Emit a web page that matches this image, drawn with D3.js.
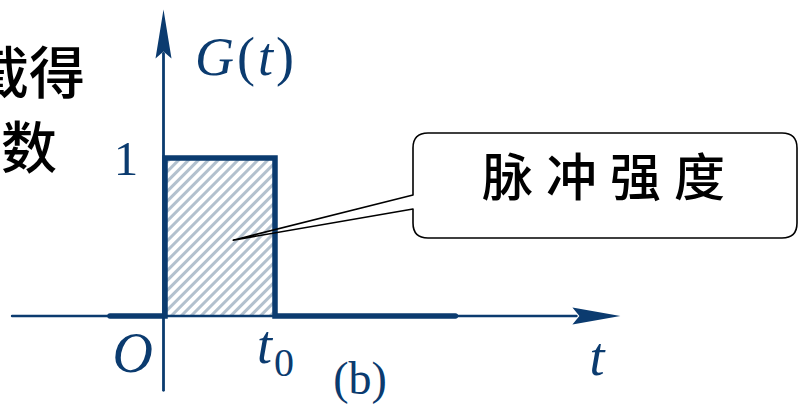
<!DOCTYPE html>
<html>
<head>
<meta charset="utf-8">
<script src="https://cdn.jsdelivr.net/npm/d3@7"></script>
<style>
  html, body { margin: 0; padding: 0; background: #fff; }
  svg { display: block; }
</style>
</head>
<body>
<svg id="chart" width="798" height="411"></svg>
<script>
// Rectangular pulse G(t): 1 on [0, t0], 0 elsewhere (t0 = 1 unit)
const pulseStart = [0];
const pulseEnd = [1];
const pulseHeight = [1];
// Segments of the thick function trace (t, G) drawn along the t axis
const traceT = [-0.5, 0, 0, 1, 1, 2.64];
const traceG = [0, 0, 1, 1, 0, 0];
// Axis extents in data units
const tAxisRange = [-1.39, 4.14];
const gAxisRange = [-0.47, 1.94];
// Tick labels
const yTickValues = [1];
const yTickLabels = ["1"];
const xTickValues = [1];
const xTickLabels = ["t"];
// Annotation
const calloutText = ["脉冲强度"];
const calloutTarget = [0.62, 0.48];
const sideText = ["截得", "数"];
const panelLabel = ["(b)"];

const navy = "#0b3b6f";
const hatch = "#b3c1ce";

const svg = d3.select("#chart");
const x = d3.scaleLinear().domain([0, 1]).range([165, 275]);
const y = d3.scaleLinear().domain([0, 1]).range([316, 158]);

const defs = svg.append("defs");
const pat = defs.append("pattern")
  .attr("id", "hatch")
  .attr("patternUnits", "userSpaceOnUse")
  .attr("width", 7).attr("height", 7)
  .attr("patternTransform", "rotate(45)");
pat.append("rect").attr("width", 7).attr("height", 7).attr("fill", "#fff");
pat.append("line")
  .attr("x1", 1.5).attr("y1", 0).attr("x2", 1.5).attr("y2", 7)
  .attr("stroke", hatch).attr("stroke-width", 3);

// Hatched pulse area
svg.append("rect")
  .attr("x", x(pulseStart[0]))
  .attr("y", y(pulseHeight[0]))
  .attr("width", x(pulseEnd[0]) - x(pulseStart[0]))
  .attr("height", y(0) - y(pulseHeight[0]))
  .attr("fill", "url(#hatch)");

// Horizontal axis (thin) with arrow
const axY = y(0);
const tx0 = x(tAxisRange[0]), tx1 = x(tAxisRange[1]);
svg.append("line")
  .attr("x1", tx0).attr("y1", axY).attr("x2", tx1 - 44).attr("y2", axY)
  .attr("stroke", navy).attr("stroke-width", 2.6).attr("stroke-linecap", "round");
svg.append("path")
  .attr("d", `M${tx1},${axY} L${tx1 - 48},${axY - 8.5} L${tx1 - 41},${axY} L${tx1 - 48},${axY + 8.5} Z`)
  .attr("fill", navy);

// Vertical axis with arrow
const axX = x(0) - 1.5;
const gy0 = y(gAxisRange[0]), gy1 = y(gAxisRange[1]);
svg.append("line")
  .attr("x1", axX).attr("y1", gy0).attr("x2", axX).attr("y2", gy1 + 44)
  .attr("stroke", navy).attr("stroke-width", 2.8).attr("stroke-linecap", "round");
svg.append("path")
  .attr("d", `M${axX},${gy1} L${axX - 8},${gy1 + 49} L${axX},${gy1 + 42} L${axX + 8},${gy1 + 49} Z`)
  .attr("fill", navy);

// Thick function trace
const trace = traceT.map((t, i) => [x(t), y(traceG[i])]);
svg.append("path")
  .attr("d", d3.line()(trace))
  .attr("fill", "none")
  .attr("stroke", navy)
  .attr("stroke-width", 5.5)
  .attr("stroke-linejoin", "miter")
  .attr("stroke-linecap", "round");

// Math labels
const serif = "'Liberation Serif', 'Times New Roman', serif";
const gl = svg.append("text")
  .attr("x", 195).attr("y", y(0) - 241)
  .attr("font-family", serif).attr("font-size", 54)
  .attr("letter-spacing", 3).attr("fill", navy);
gl.append("tspan").attr("font-style", "italic").text("G");
gl.append("tspan").text("(");
gl.append("tspan").attr("font-style", "italic").text("t");
gl.append("tspan").text(")");

svg.selectAll("text.ytick").data(yTickValues).enter().append("text")
  .attr("class", "ytick")
  .attr("x", x(0) - 39).attr("y", d => y(d) + 17)
  .attr("text-anchor", "middle")
  .attr("font-family", serif).attr("font-size", 49).attr("fill", navy)
  .text((d, i) => yTickLabels[i]);

svg.append("text")
  .attr("x", x(0) - 12).attr("y", y(0) + 56)
  .attr("text-anchor", "end")
  .attr("font-family", serif).attr("font-style", "italic")
  .attr("font-size", 56).attr("fill", navy)
  .text("O");

svg.selectAll("text.xtick").data(xTickValues).enter().append("text")
  .attr("class", "xtick")
  .attr("x", d => x(d) - 18).attr("y", y(0) + 47)
  .attr("font-family", serif).attr("font-size", 54).attr("fill", navy)
  .each(function (d, i) {
    const s = d3.select(this);
    s.append("tspan").attr("font-style", "italic").text(xTickLabels[i]);
    s.append("tspan").attr("font-size", 40).attr("dx", 2).attr("dy", 13).text("0");
  });

svg.append("text")
  .attr("x", x(tAxisRange[1]) - 31).attr("y", y(0) + 59)
  .attr("font-family", serif).attr("font-style", "italic")
  .attr("font-size", 54).attr("fill", navy)
  .text("t");

svg.append("text")
  .attr("x", 360).attr("y", 394)
  .attr("text-anchor", "middle")
  .attr("font-family", serif).attr("font-size", 46).attr("fill", navy)
  .text(panelLabel[0]);

// Callout box with pointer
const bx0 = 413, bx1 = 797, by0 = 133, by1 = 238, r = 15;
const px = x(calloutTarget[0]), py = y(calloutTarget[1]);
const notchTop = 195, notchBot = 209;
const calloutPath = [
  `M${bx0 + r},${by0}`,
  `L${bx1 - r},${by0}`,
  `Q${bx1},${by0} ${bx1},${by0 + r}`,
  `L${bx1},${by1 - r}`,
  `Q${bx1},${by1} ${bx1 - r},${by1}`,
  `L${bx0 + r},${by1}`,
  `Q${bx0},${by1} ${bx0},${by1 - r}`,
  `L${bx0},${notchBot}`,
  `L${px},${py}`,
  `L${bx0},${notchTop}`,
  `L${bx0},${by0 + r}`,
  `Q${bx0},${by0} ${bx0 + r},${by0}`,
  "Z"
].join(" ");
svg.append("path")
  .attr("d", calloutPath)
  .attr("fill", "none")
  .attr("stroke", "#000")
  .attr("stroke-width", 1.6)
  .attr("stroke-linejoin", "round");

const cjk = "'Noto Sans CJK SC', 'Noto Sans CJK JP', sans-serif";
svg.append("text")
  .attr("x", 610).attr("y", 174)
  .attr("text-anchor", "middle")
  .attr("dominant-baseline", "central")
  .attr("font-family", cjk).attr("font-size", 51)
  .attr("font-weight", 500)
  .attr("letter-spacing", 13)
  .attr("fill", "#000")
  .text(calloutText[0]);

// Side caption, partly beyond the left edge
svg.selectAll("text.side").data(sideText).enter().append("text")
  .attr("class", "side")
  .attr("x", (d, i) => i === 0 ? 85 : 57)
  .attr("y", (d, i) => 68 + i * 75)
  .attr("text-anchor", "end")
  .attr("dominant-baseline", "central")
  .attr("font-family", cjk).attr("font-size", 56)
  .attr("font-weight", 500)
  .attr("fill", "#000")
  .text(d => d);
</script>
</body>
</html>
